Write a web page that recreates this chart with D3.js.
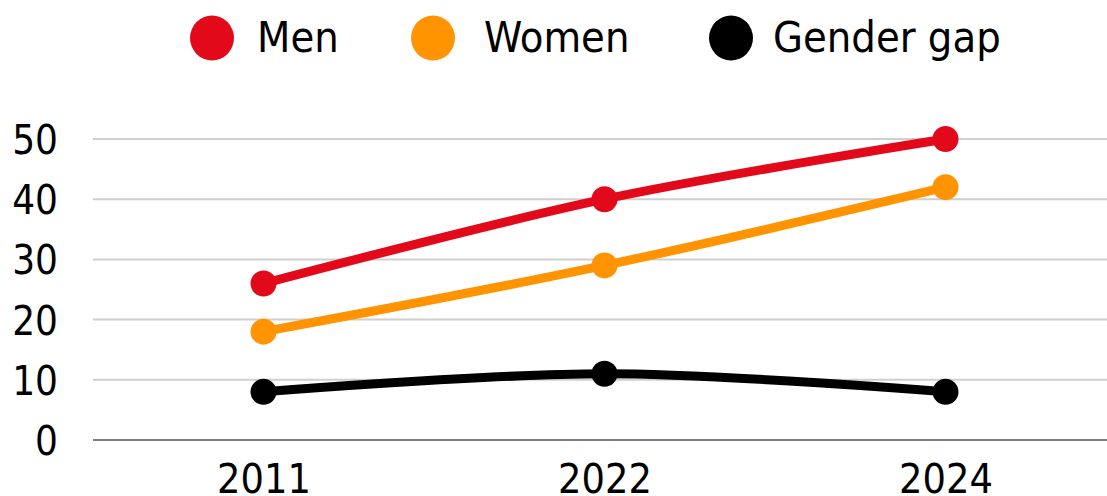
<!DOCTYPE html>
<html><head><meta charset="utf-8">
<script src="https://cdn.jsdelivr.net/npm/d3@7"></script>
<style>
html,body{margin:0;padding:0;background:#fff;}
svg{display:block;font-family:"DejaVu Sans Condensed","DejaVu Sans",sans-serif;font-stretch:condensed;}
</style></head>
<body><svg id="chart" width="1107" height="496"></svg>
<script>
const years = ["2011", "2022", "2024"];
const men = [26, 40, 50];
const women = [18, 29, 42];
const gap = [8, 11, 8];
const yTicks = [0, 10, 20, 30, 40, 50];
const seriesNames = ["Men", "Women", "Gender gap"];
const seriesColors = ["#E20A1A", "#FF9400", "#000000"];

const svg = d3.select("#chart");
const x = d3.scalePoint().domain(years).range([93, 1116]).padding(0.5);
const y = d3.scaleLinear().domain([0, 50]).range([440, 139]);

// gridlines
svg.append("g").selectAll("line").data(yTicks.filter(d => d > 0)).join("line")
  .attr("x1", 93).attr("x2", 1107)
  .attr("y1", d => y(d)).attr("y2", d => y(d))
  .attr("stroke", "#cfcfcf").attr("stroke-width", 2);

// y axis labels
const yAxis = d3.axisLeft(y).tickValues(yTicks).tickSize(0).tickPadding(0).tickFormat(d3.format("d"));
const ya = svg.append("g").attr("transform", "translate(58,0)").call(yAxis);
ya.select(".domain").remove();
ya.selectAll("text").attr("font-size", 40).attr("fill", "#000").attr("dy", "0.36em")
  .style("font-family", '"DejaVu Sans Condensed","DejaVu Sans",sans-serif');

// x axis
const xAxis = d3.axisBottom(x).tickSize(0).tickPadding(0);
const xa = svg.append("g").attr("transform", "translate(0,440)").call(xAxis);
xa.select(".domain").remove();
xa.selectAll("text").attr("font-size", 41).attr("fill", "#000").attr("dy", 0).attr("y", 53)
  .style("font-family", '"DejaVu Sans Condensed","DejaVu Sans",sans-serif');
svg.append("line").attr("x1", 93).attr("x2", 1107).attr("y1", y(0)).attr("y2", y(0))
  .attr("stroke", "#7f7f7f").attr("stroke-width", 2);

// series
const series = [men, women, gap];
const line = d3.line().x((d, i) => x(years[i])).y(d => y(d)).curve(d3.curveCatmullRom.alpha(0.5));
series.forEach((vals, si) => {
  svg.append("path").datum(vals).attr("d", line)
    .attr("fill", "none").attr("stroke", seriesColors[si]).attr("stroke-width", 9)
    .attr("stroke-linejoin", "round");
  svg.append("g").selectAll("circle").data(vals).join("circle")
    .attr("cx", (d, i) => x(years[i])).attr("cy", d => y(d)).attr("r", 13)
    .attr("fill", seriesColors[si]);
});

// legend
const legendX = [212, 433, 731];
const legendTextX = [257, 484, 773];
const lg = svg.append("g");
seriesNames.forEach((n, i) => {
  lg.append("ellipse").attr("cx", legendX[i]).attr("cy", 38).attr("rx", 22).attr("ry", 22.5)
    .attr("fill", seriesColors[i]);
  lg.append("text").attr("x", legendTextX[i]).attr("y", 52).attr("font-size", 43)
    .attr("fill", "#000").text(n);
});
</script></body></html>
